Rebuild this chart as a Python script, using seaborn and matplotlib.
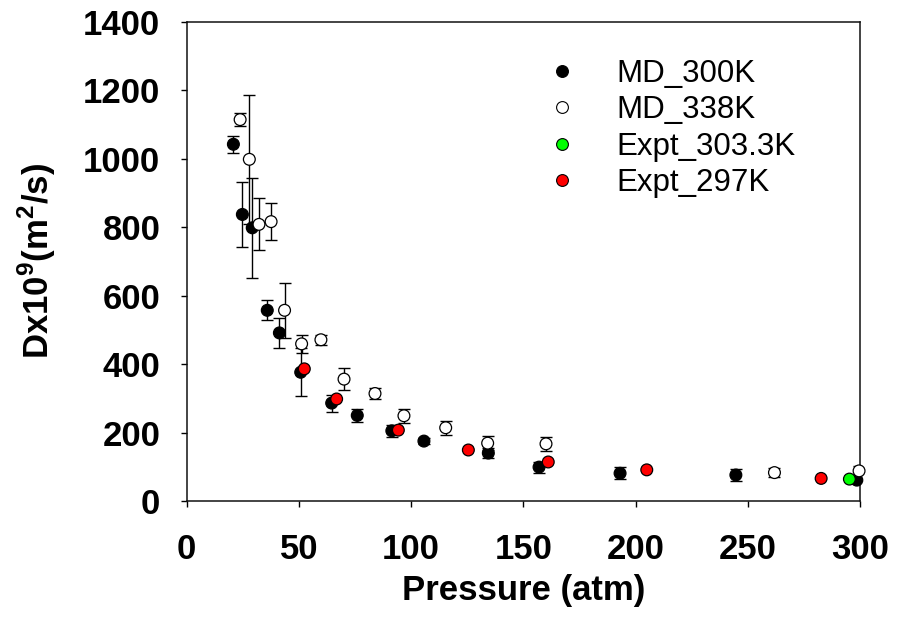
import pandas as pd
import matplotlib
matplotlib.use("Agg")
import matplotlib.pyplot as plt
import seaborn as sns

# MD simulation at 300 K (filled black)
p_300 = [20.8, 24.8, 29.2, 35.9, 41.3, 50.8, 64.6, 76.0, 91.4, 105.7, 134.4, 157.0, 193.1, 244.7, 298.6]
d_300 = [1042, 837, 798, 557, 491, 376, 286, 250, 205, 175, 140, 99, 81, 76, 61]
e_300 = [25, 95, 146, 29, 45, 70, 25, 20, 17, 9, 15, 16, 18, 18, 8]

# MD simulation at 338 K (open circles)
p_338 = [23.8, 27.9, 32.2, 37.6, 43.6, 51.2, 59.8, 70.1, 83.9, 96.8, 115.4, 134.1, 160.1, 261.9, 299.6]
d_338 = [1114, 998, 808, 816, 557, 459, 471, 356, 314, 249, 214, 169, 167, 83, 88]
e_338 = [20, 189, 76, 54, 81, 26, 14, 33, 17, 20, 20, 20, 20, 12, 15]

# experiments
p_303 = [295.3]
d_303 = [64]
p_297 = [52.4, 66.8, 94.3, 125.5, 161.1, 205.0, 282.7]
d_297 = [386, 298, 207, 149, 114, 91, 66]

labels = ["MD_300K", "MD_338K", "Expt_303.3K", "Expt_297K"]
colors = ["black", "white", "#00ff00", "#ff0000"]

df = pd.concat([
    pd.DataFrame({"P": p_300, "D": d_300, "set": labels[0]}),
    pd.DataFrame({"P": p_338, "D": d_338, "set": labels[1]}),
    pd.DataFrame({"P": p_303, "D": d_303, "set": labels[2]}),
    pd.DataFrame({"P": p_297, "D": d_297, "set": labels[3]}),
])

sns.set_style("ticks", {"text.color": "black", "axes.labelcolor": "black",
                        "xtick.color": "black", "ytick.color": "black", "axes.edgecolor": "black"})
plt.rcParams['font.family'] = ['Liberation Sans', 'DejaVu Sans']
plt.rcParams['mathtext.fontset'] = 'custom'
plt.rcParams['mathtext.rm'] = 'Liberation Sans:bold'
plt.rcParams['mathtext.bf'] = 'Liberation Sans:bold'

fig = plt.figure(figsize=(9.02, 6.18), dpi=100)
ax = fig.add_axes([0.207, 0.1893, 0.7464, 0.7756])

# error bars first, markers on top
ax.errorbar(p_300, d_300, yerr=e_300, fmt='none', ecolor='black', elinewidth=1.0, capsize=4.5, capthick=1.0, zorder=2)
ax.errorbar(p_338, d_338, yerr=e_338, fmt='none', ecolor='black', elinewidth=1.0, capsize=4.5, capthick=1.0, zorder=2)

sns.scatterplot(data=df, x="P", y="D", hue="set", hue_order=labels, palette=colors,
                s=72, edgecolor="black", linewidth=0.9, ax=ax, clip_on=False, zorder=3, legend=False)

ax.set_xlim(0, 300)
ax.set_ylim(0, 1400)
ax.set_xticks(range(0, 301, 50))
ax.set_yticks(range(0, 1401, 200))

for s in ax.spines.values():
    s.set_linewidth(1.1)
    s.set_color("#111111")

ax.tick_params(direction='out', length=4, width=1.0, pad=15, labelsize=25, colors='black')
ax.tick_params(axis='x', pad=19)
for lbl in ax.get_xticklabels() + ax.get_yticklabels():
    lbl.set_fontweight('bold')

ax.set_xlabel("Pressure (atm)", fontsize=25, fontweight='bold', labelpad=6, color='black')
ax.set_ylabel("Dx10$^9$(m$^2$/s)", fontsize=25, fontweight='bold', labelpad=18, color='black')

handles = [plt.Line2D([], [], marker='o', ls='none', markersize=8.5, markerfacecolor=c,
                      markeredgecolor='black', markeredgewidth=0.8) for c in colors]
leg = ax.legend(handles, labels, loc='upper left', bbox_to_anchor=(0.511, 0.922), frameon=False,
                fontsize=22.5, handletextpad=0.75, labelspacing=0.2, borderaxespad=0, borderpad=0)
for t in leg.get_texts():
    t.set_color('black')

fig.savefig("out.png", dpi=100)
